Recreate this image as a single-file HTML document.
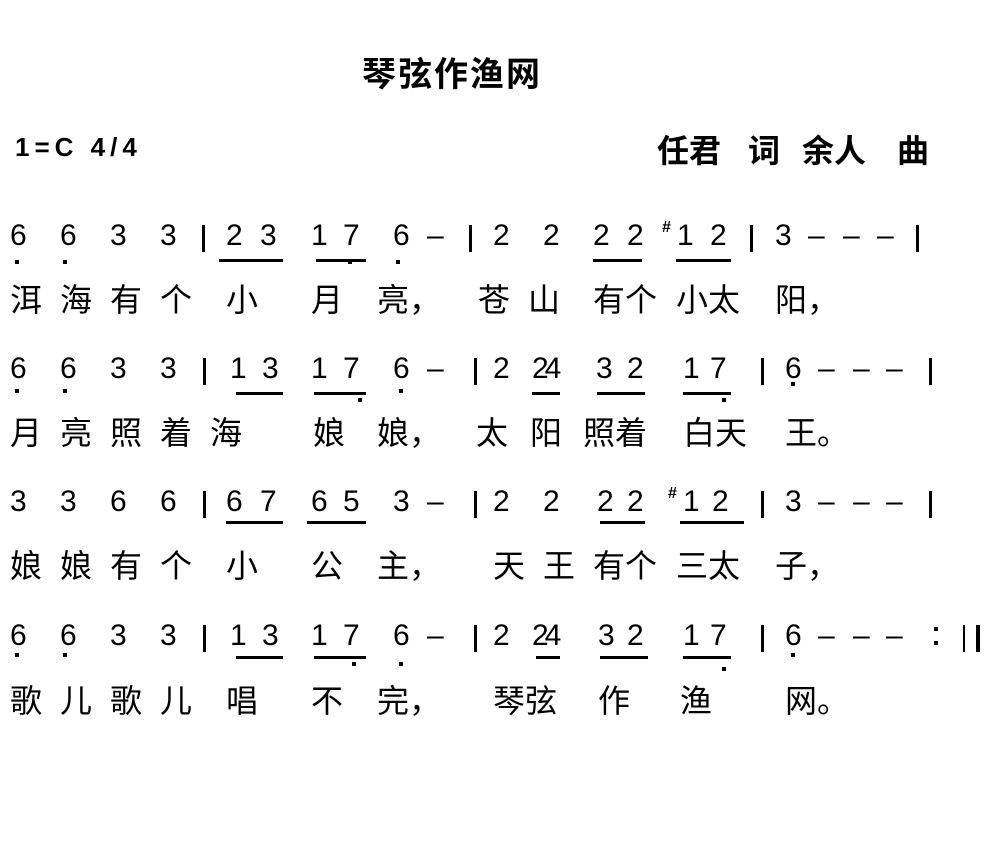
<!DOCTYPE html>
<html><head><meta charset="utf-8"><style>
body{margin:0;width:993px;height:866px;background:#fff;position:relative;overflow:hidden}
div{position:absolute}
.n{font:30px/1 "Liberation Sans",sans-serif;color:#000}
.l{font:32px/1 "Liberation Sans","WenQuanYi Zen Hei","Noto Sans CJK SC",sans-serif;color:#000}
.b{width:3px;height:27px;background:#000}
.u{height:3px;background:#000}
.d{width:4px;height:4px;background:#000}
.s{font:bold 16px/1 "Liberation Sans",sans-serif}
.a{font:bold 32px/1 "Liberation Sans","WenQuanYi Zen Hei","Noto Sans CJK SC",sans-serif;top:135px}
</style></head><body>
<div class="l" style="left:362px;top:58px;font-weight:bold;font-size:34px;letter-spacing:2px">琴弦作渔网</div>
<div class="n" style="left:15px;top:134px;font-weight:bold;font-size:26px;letter-spacing:5px">1=C 4/4</div>
<div class="a" style="left:657px">任君</div><div class="a" style="left:748px">词</div><div class="a" style="left:802px">余人</div><div class="a" style="left:897px">曲</div>

<!-- Row 1 -->
<div class="n" style="left:10px;top:221px">6</div><div class="n" style="left:60px;top:221px">6</div><div class="n" style="left:110px;top:221px">3</div><div class="n" style="left:160px;top:221px">3</div>
<div class="b" style="left:202px;top:225px"></div>
<div class="n" style="left:226px;top:221px">2</div><div class="n" style="left:260px;top:221px">3</div>
<div class="u" style="left:219px;top:259px;width:64px"></div>
<div class="n" style="left:311px;top:221px">1</div><div class="n" style="left:343px;top:221px">7</div>
<div class="u" style="left:316px;top:259px;width:50px"></div>
<div class="n" style="left:393px;top:221px">6</div><div class="n" style="left:427px;top:221px">–</div>
<div class="b" style="left:469px;top:225px"></div>
<div class="n" style="left:493px;top:221px">2</div><div class="n" style="left:543px;top:221px">2</div>
<div class="n" style="left:593px;top:221px">2</div><div class="n" style="left:627px;top:221px">2</div>
<div class="u" style="left:593px;top:259px;width:49px"></div>
<div class="s" style="left:662px;top:220px">#</div>
<div class="n" style="left:677px;top:221px">1</div><div class="n" style="left:710px;top:221px">2</div>
<div class="u" style="left:676px;top:259px;width:55px"></div>
<div class="b" style="left:750px;top:225px"></div>
<div class="n" style="left:775px;top:221px">3</div><div class="n" style="left:808px;top:221px">–</div><div class="n" style="left:843px;top:221px">–</div><div class="n" style="left:877px;top:221px">–</div>
<div class="b" style="left:916px;top:225px"></div>
<div class="d" style="left:15px;top:260px"></div><div class="d" style="left:63px;top:260px"></div><div class="d" style="left:348px;top:260px"></div><div class="d" style="left:396px;top:260px"></div>
<div class="l" style="left:10px;top:284px">洱</div><div class="l" style="left:60px;top:284px">海</div><div class="l" style="left:110px;top:284px">有</div><div class="l" style="left:160px;top:284px">个</div><div class="l" style="left:226px;top:284px">小</div><div class="l" style="left:311px;top:284px">月</div><div class="l" style="left:377px;top:284px">亮，</div>
<div class="l" style="left:478px;top:284px">苍</div><div class="l" style="left:528px;top:284px">山</div><div class="l" style="left:593px;top:284px">有个</div><div class="l" style="left:676px;top:284px">小太</div><div class="l" style="left:775px;top:284px">阳，</div>

<!-- Row 2 -->
<div class="n" style="left:10px;top:354px">6</div><div class="n" style="left:60px;top:354px">6</div><div class="n" style="left:110px;top:354px">3</div><div class="n" style="left:160px;top:354px">3</div>
<div class="b" style="left:203px;top:358px"></div>
<div class="n" style="left:230px;top:354px">1</div><div class="n" style="left:262px;top:354px">3</div>
<div class="u" style="left:236px;top:392px;width:47px"></div>
<div class="n" style="left:311px;top:354px">1</div><div class="n" style="left:343px;top:354px">7</div>
<div class="u" style="left:314px;top:392px;width:52px"></div>
<div class="n" style="left:393px;top:354px">6</div><div class="n" style="left:427px;top:354px">–</div>
<div class="b" style="left:474px;top:358px"></div>
<div class="n" style="left:493px;top:354px">2</div><div class="n" style="left:532px;top:354px;letter-spacing:-4px">24</div>
<div class="u" style="left:532px;top:392px;width:28px"></div>
<div class="n" style="left:596px;top:354px">3</div><div class="n" style="left:627px;top:354px">2</div>
<div class="u" style="left:597px;top:392px;width:48px"></div>
<div class="n" style="left:683px;top:354px">1</div><div class="n" style="left:710px;top:354px">7</div>
<div class="u" style="left:683px;top:392px;width:48px"></div>
<div class="b" style="left:761px;top:358px"></div>
<div class="n" style="left:785px;top:354px">6</div><div class="n" style="left:818px;top:354px">–</div><div class="n" style="left:853px;top:354px">–</div><div class="n" style="left:886px;top:354px">–</div>
<div class="b" style="left:929px;top:358px"></div>
<div class="d" style="left:15px;top:389px"></div><div class="d" style="left:63px;top:389px"></div><div class="d" style="left:358px;top:398px"></div><div class="d" style="left:399px;top:389px"></div><div class="d" style="left:722px;top:398px"></div><div class="d" style="left:791px;top:382px"></div>
<div class="l" style="left:10px;top:417px">月</div><div class="l" style="left:60px;top:417px">亮</div><div class="l" style="left:110px;top:417px">照</div><div class="l" style="left:160px;top:417px">着</div><div class="l" style="left:210px;top:417px">海</div><div class="l" style="left:313px;top:417px">娘</div><div class="l" style="left:377px;top:417px">娘，</div>
<div class="l" style="left:476px;top:417px">太</div><div class="l" style="left:530px;top:417px">阳</div><div class="l" style="left:583px;top:417px">照着</div><div class="l" style="left:683px;top:417px">白天</div><div class="l" style="left:785px;top:417px">王。</div>

<!-- Row 3 -->
<div class="n" style="left:10px;top:487px">3</div><div class="n" style="left:60px;top:487px">3</div><div class="n" style="left:110px;top:487px">6</div><div class="n" style="left:160px;top:487px">6</div>
<div class="b" style="left:203px;top:491px"></div>
<div class="n" style="left:226px;top:487px">6</div><div class="n" style="left:260px;top:487px">7</div>
<div class="u" style="left:226px;top:521px;width:57px"></div>
<div class="n" style="left:311px;top:487px">6</div><div class="n" style="left:343px;top:487px">5</div>
<div class="u" style="left:307px;top:521px;width:59px"></div>
<div class="n" style="left:393px;top:487px">3</div><div class="n" style="left:427px;top:487px">–</div>
<div class="b" style="left:474px;top:491px"></div>
<div class="n" style="left:493px;top:487px">2</div><div class="n" style="left:543px;top:487px">2</div>
<div class="n" style="left:597px;top:487px">2</div><div class="n" style="left:627px;top:487px">2</div>
<div class="u" style="left:600px;top:521px;width:45px"></div>
<div class="s" style="left:668px;top:486px">#</div>
<div class="n" style="left:683px;top:487px">1</div><div class="n" style="left:712px;top:487px">2</div>
<div class="u" style="left:680px;top:521px;width:64px"></div>
<div class="b" style="left:761px;top:491px"></div>
<div class="n" style="left:785px;top:487px">3</div><div class="n" style="left:818px;top:487px">–</div><div class="n" style="left:853px;top:487px">–</div><div class="n" style="left:886px;top:487px">–</div>
<div class="b" style="left:929px;top:491px"></div>
<div class="l" style="left:10px;top:550px">娘</div><div class="l" style="left:60px;top:550px">娘</div><div class="l" style="left:110px;top:550px">有</div><div class="l" style="left:160px;top:550px">个</div><div class="l" style="left:226px;top:550px">小</div><div class="l" style="left:311px;top:550px">公</div><div class="l" style="left:377px;top:550px">主，</div>
<div class="l" style="left:493px;top:550px">天</div><div class="l" style="left:543px;top:550px">王</div><div class="l" style="left:593px;top:550px">有个</div><div class="l" style="left:676px;top:550px">三太</div><div class="l" style="left:775px;top:550px">子，</div>

<!-- Row 4 -->
<div class="n" style="left:10px;top:621px">6</div><div class="n" style="left:60px;top:621px">6</div><div class="n" style="left:110px;top:621px">3</div><div class="n" style="left:160px;top:621px">3</div>
<div class="b" style="left:203px;top:625px"></div>
<div class="n" style="left:230px;top:621px">1</div><div class="n" style="left:262px;top:621px">3</div>
<div class="u" style="left:236px;top:656px;width:47px"></div>
<div class="n" style="left:311px;top:621px">1</div><div class="n" style="left:343px;top:621px">7</div>
<div class="u" style="left:314px;top:656px;width:52px"></div>
<div class="n" style="left:393px;top:621px">6</div><div class="n" style="left:427px;top:621px">–</div>
<div class="b" style="left:474px;top:625px"></div>
<div class="n" style="left:493px;top:621px">2</div><div class="n" style="left:532px;top:621px;letter-spacing:-4px">24</div>
<div class="u" style="left:536px;top:656px;width:24px"></div>
<div class="n" style="left:598px;top:621px">3</div><div class="n" style="left:627px;top:621px">2</div>
<div class="u" style="left:600px;top:656px;width:48px"></div>
<div class="n" style="left:683px;top:621px">1</div><div class="n" style="left:710px;top:621px">7</div>
<div class="u" style="left:683px;top:656px;width:48px"></div>
<div class="b" style="left:761px;top:625px"></div>
<div class="n" style="left:785px;top:621px">6</div><div class="n" style="left:818px;top:621px">–</div><div class="n" style="left:853px;top:621px">–</div><div class="n" style="left:886px;top:621px">–</div>
<div class="d" style="left:934px;top:627px"></div><div class="d" style="left:934px;top:641px"></div>
<div class="b" style="left:963px;top:625px;width:2px"></div><div class="b" style="left:976px;top:625px;width:4px"></div>
<div class="d" style="left:15px;top:653px"></div><div class="d" style="left:63px;top:653px"></div><div class="d" style="left:352px;top:662px"></div><div class="d" style="left:399px;top:662px"></div><div class="d" style="left:722px;top:667px"></div><div class="d" style="left:791px;top:653px"></div>
<div class="l" style="left:10px;top:685px">歌</div><div class="l" style="left:60px;top:685px">儿</div><div class="l" style="left:110px;top:685px">歌</div><div class="l" style="left:160px;top:685px">儿</div><div class="l" style="left:226px;top:685px">唱</div><div class="l" style="left:311px;top:685px">不</div><div class="l" style="left:377px;top:685px">完，</div>
<div class="l" style="left:493px;top:685px">琴弦</div><div class="l" style="left:598px;top:685px">作</div><div class="l" style="left:680px;top:685px">渔</div><div class="l" style="left:785px;top:685px">网。</div>
</body></html>
